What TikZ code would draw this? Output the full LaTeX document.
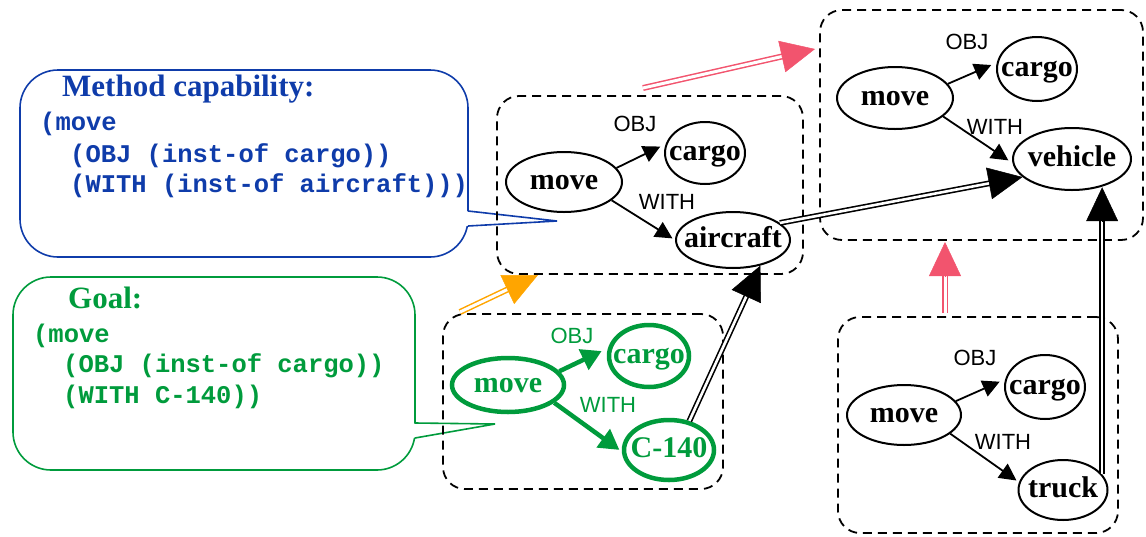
\documentclass[tikz,border=0pt]{standalone}
\usepackage{fontspec}
\setmainfont{Liberation Serif}
\setsansfont{Liberation Sans}
\setmonofont{Liberation Mono}
\usetikzlibrary{shapes.geometric,arrows.meta,calc}
\definecolor{blueC}{RGB}{15,60,170}
\definecolor{greenC}{RGB}{0,155,60}
\definecolor{pinkC}{RGB}{242,84,110}
\definecolor{orangeC}{RGB}{255,165,0}
\newcommand{\nt}[1]{\makebox[0pt][c]{#1}}
\begin{document}
\begin{tikzpicture}[x=1pt,y=-1pt,
  dbox/.style={draw, dash pattern=on 9pt off 6pt, line width=1.8pt, rounded corners=22pt, inner sep=0pt},
  ell/.style={draw, ellipse, line width=2pt, inner sep=0pt, text height=15pt, text depth=0pt, font=\fontsize{30}{30}\selectfont\bfseries},
  gell/.style={ell, draw=greenC, text=greenC, line width=4.5pt},
  lab/.style={font=\fontsize{22}{22}\selectfont\sffamily, inner sep=0pt},
  arr/.style={line width=1.8pt, -{Triangle[length=17pt,width=17pt]}},
  garr/.style={draw=greenC, line width=4.5pt, -{Triangle[length=20pt,width=22pt]}},
  dbl/.style={double, double distance=2.6pt, line width=1.6pt},
  cdbl/.style={double, double distance=3pt, line width=1.5pt},
  bighead/.style={line width=0.5pt, -{Triangle[length=34pt,width=32pt]}},
  callout/.style={line width=1.6pt, rounded corners=38pt},
  ttx/.style={anchor=base west, inner sep=0pt, font=\fontsize{25.5}{25.5}\selectfont\ttfamily\bfseries},
  ttl/.style={anchor=base west, inner sep=0pt, font=\fontsize{31}{31}\selectfont\bfseries}
]
\useasboundingbox (0,0) rectangle (1146,536);

% ---------- blue callout ----------
\draw[callout, blueC] (20,70) rectangle (468,257);
\fill[white] (465,211) -- (557,221) -- (465,226) -- cycle;
\draw[blueC, line width=1.6pt] (468,211) -- (557,221) -- (468,226);
\node[ttl, text=blueC] (mcT) at (62,96) {Method capability:};
\node[ttx, text=blueC] (mc1) at (40,130) {(move};
\node[ttx, text=blueC] (mc2) at (70,162) {(OBJ (inst-of cargo))};
\node[ttx, text=blueC] (mc3) at (70,192) {(WITH (inst-of aircraft)))};

% ---------- green callout ----------
\draw[callout, greenC] (13,277) rectangle (415,470);
\fill[white] (412,423.5) -- (495,424) -- (412,438) -- cycle;
\draw[greenC, line width=1.6pt] (415,423) -- (495,424) -- (415,438);
\node[ttl, text=greenC] (gT) at (68,308) {Goal:};
\node[ttx, text=greenC] (g1) at (33,342) {(move};
\node[ttx, text=greenC] (g2) at (63,372) {(OBJ (inst-of cargo))};
\node[ttx, text=greenC] (g3) at (63,403) {(WITH C-140))};

% ---------- dashed boxes ----------
\node[dbox, minimum width=306pt, minimum height=178pt] (boxA) at (650,185) {};
\node[dbox, minimum width=280pt, minimum height=175pt] (boxB) at (583,401.5) {};
\node[dbox, minimum width=323pt, minimum height=230pt] (boxC) at (981.5,125) {};
\node[dbox, minimum width=280pt, minimum height=216pt] (boxD) at (978,425) {};

% ---------- box A ----------
\node[ell, minimum width=116pt, minimum height=60pt] (mA) at (564,182) {\nt{move}};
\node[ell, minimum width=80pt, minimum height=62pt] (cA) at (705,153) {\nt{cargo}};
\node[ell, minimum width=114pt, minimum height=56pt] (aA) at (733,240) {\nt{aircraft}};
\node[lab] (oA) at (635,124) {OBJ};
\node[lab] (wA) at (667,202) {WITH};
\draw[arr, shorten >=6pt] (mA.15) -- (cA.167);
\draw[arr, shorten >=3pt] (mA.-21) -- (aA.180);

% ---------- box B (green) ----------
\node[gell, minimum width=112pt, minimum height=54pt] (mB) at (508,385) {\nt{move}};
\node[gell, minimum width=80pt, minimum height=62pt] (cB) at (649,356) {\nt{cargo}};
\node[gell, minimum width=90pt, minimum height=60pt] (kB) at (669,450) {\nt{C-140}};
\node[lab, text=greenC] (oB) at (572,336) {OBJ};
\node[lab, text=greenC] (wB) at (608,405) {WITH};
\draw[garr, shorten >=7pt] (mB.15) -- (cB.169);
\draw[garr, shorten >=3pt] (mB.-21) -- (kB.182);

% ---------- box C ----------
\node[ell, minimum width=116pt, minimum height=62pt] (mC) at (895,98) {\nt{move}};
\node[ell, minimum width=80pt, minimum height=64pt] (cC) at (1037,69) {\nt{cargo}};
\node[ell, minimum width=118pt, minimum height=62pt] (vC) at (1072,159) {\nt{vehicle}};
\node[lab] (oC) at (967,42) {OBJ};
\node[lab] (wC) at (995,127) {WITH};
\draw[arr, shorten >=6pt] (mC.15) -- (cC.171);
\draw[arr, shorten >=5pt] (mC.-21) -- (vC.184);

% ---------- box D ----------
\node[ell, minimum width=114pt, minimum height=60pt] (mD) at (904,415) {\nt{move}};
\node[ell, minimum width=80pt, minimum height=64pt] (cD) at (1045,387) {\nt{cargo}};
\node[ell, minimum width=89pt, minimum height=60pt] (tD) at (1063,490) {\nt{truck}};
\node[lab] (oD) at (975,358) {OBJ};
\node[lab] (wD) at (1003,442) {WITH};
\draw[arr, shorten >=6pt] (mD.15) -- (cD.169);
\draw[arr, shorten >=3pt] (mD.-22) -- (tD.170);

% ---------- black double arrows ----------
\draw[dbl] (aA.20) -- ($(vC.200)!30pt!(aA.20)$);
\draw[bighead] ($(vC.200)!34pt!(aA.20)$) -- (vC.200);

\draw[dbl] (kB.55) -- ($(aA.317)!28pt!(kB.55)$);
\draw[bighead] ($(aA.317)!34pt!(kB.55)$) -- (aA.317);

\coordinate (vT) at (tD.22 |- vC.-45);
\draw[dbl] (tD.22) -- ($(vT)!30pt!(tD.22)$);
\draw[bighead] ($(vT)!34pt!(tD.22)$) -- (vT);

% ---------- coloured double arrows ----------
\coordinate (pkS) at (643,88);
\coordinate (pkE) at (815,49);
\draw[cdbl, pinkC] (pkS) -- ($(pkE)!30pt!(pkS)$);
\draw[bighead, pinkC] ($(pkE)!34pt!(pkS)$) -- (pkE);

\coordinate (pvS) at (945,313);
\coordinate (pvE) at (945,242);
\draw[cdbl, pinkC] (pvS) -- ($(pvE)!30pt!(pvS)$);
\draw[bighead, pinkC] ($(pvE)!34pt!(pvS)$) -- (pvE);

\coordinate (orS) at (460,312);
\coordinate (orE) at (538,275);
\draw[cdbl, orangeC] (orS) -- ($(orE)!30pt!(orS)$);
\draw[bighead, orangeC] ($(orE)!34pt!(orS)$) -- (orE);
\end{tikzpicture}
\end{document}
